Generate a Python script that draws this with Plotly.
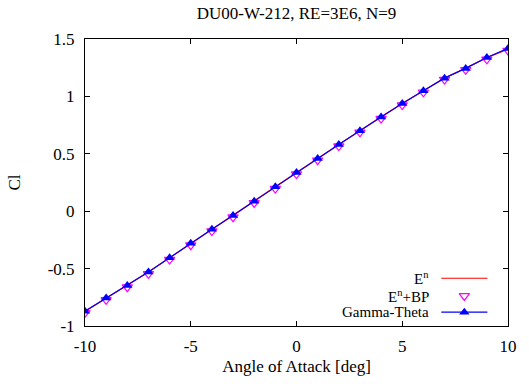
import plotly.graph_objects as go

alpha = [-10, -9, -8, -7, -6, -5, -4, -3, -2, -1, 0, 1, 2, 3, 4, 5, 6, 7, 8, 9, 10]
cl_en = [-0.872, -0.758, -0.648, -0.530, -0.406, -0.281, -0.158, -0.037, 0.087, 0.212, 0.338,
         0.459, 0.582, 0.702, 0.822, 0.939, 1.051, 1.160, 1.247, 1.338, 1.412]
cl_bp = [-0.885, -0.772, -0.662, -0.545, -0.421, -0.296, -0.173, -0.052, 0.072, 0.197, 0.323,
         0.444, 0.567, 0.687, 0.807, 0.924, 1.036, 1.146, 1.232, 1.323, 1.400]
cl_gt = [-0.871, -0.757, -0.648, -0.530, -0.406, -0.280, -0.157, -0.037, 0.087, 0.212, 0.338,
         0.458, 0.581, 0.701, 0.821, 0.938, 1.050, 1.159, 1.244, 1.339, 1.418]
x_ticks = [-10, -5, 0, 5, 10]
x_ticktext = ["-10", "-5", "0", "5", "10"]
y_ticks = [-1, -0.5, 0, 0.5, 1, 1.5]
y_ticktext = ["-1", "-0.5", "0", "0.5", "1", "1.5"]
legend_names = ["E<sup>n</sup>", "E<sup>n</sup>+BP", "Gamma-Theta"]

FONT = "Liberation Serif"
FS = 17
LFS = 15

fig = go.Figure()
fig.add_trace(go.Scatter(x=alpha, y=cl_en, mode="lines", line=dict(color="#ff0000", width=1.2),
                         showlegend=False))
fig.add_trace(go.Scatter(x=alpha, y=cl_bp, mode="markers",
                         marker=dict(symbol="triangle-down-open", size=9, color="#ff00ff",
                                     line=dict(width=1.2, color="#ff00ff")),
                         showlegend=False))
fig.add_trace(go.Scatter(x=alpha, y=cl_gt, mode="lines+markers", line=dict(color="#0000ff", width=1.2),
                         marker=dict(symbol="triangle-up", size=9, color="#0000ff"),
                         showlegend=False))

# custom gnuplot-style legend (text then sample) on hidden overlay axes in pixel units
ly = [281.5, 299.5, 316]
fig.add_trace(go.Scatter(x=[448, 495], y=[ly[0], ly[0]], mode="lines", xaxis="x2", yaxis="y2",
                         line=dict(color="#ff0000", width=1.2), showlegend=False, hoverinfo="skip"))
fig.add_trace(go.Scatter(x=[471.5], y=[ly[1]], mode="markers", xaxis="x2", yaxis="y2",
                         marker=dict(symbol="triangle-down-open", size=9, color="#ff00ff",
                                     line=dict(width=1.2, color="#ff00ff")),
                         showlegend=False, hoverinfo="skip"))
fig.add_trace(go.Scatter(x=[448, 495], y=[ly[2]] * 2, mode="lines", xaxis="x2", yaxis="y2",
                         line=dict(color="#0000ff", width=1.2), showlegend=False, hoverinfo="skip"))
fig.add_trace(go.Scatter(x=[471.5], y=[ly[2]], mode="markers", xaxis="x2", yaxis="y2",
                         marker=dict(symbol="triangle-up", size=9, color="#0000ff"),
                         showlegend=False, hoverinfo="skip"))
for name, yy in zip(legend_names, ly):
    fig.add_annotation(x=438, y=yy, xref="x2", yref="y2", text=name, showarrow=False,
                       xanchor="right", yanchor="middle", font=dict(family=FONT, size=LFS, color="black"))

fig.update_layout(
    width=529, height=384,
    margin=dict(l=85, r=13, t=38.5, b=54),
    paper_bgcolor="white", plot_bgcolor="white",
    font=dict(family=FONT, size=FS, color="black"),
    title=dict(text="DU00-W-212, RE=3E6, N=9", x=0.5, xref="paper", xanchor="center",
               y=1 - 13 / 384, yref="container", yanchor="middle",
               font=dict(family=FONT, size=FS, color="black")),
    xaxis=dict(range=[-10, 10], tickvals=x_ticks, ticktext=x_ticktext, ticks="inside", ticklen=5,
               tickcolor="black", showgrid=False, zeroline=False, showline=True, linecolor="black",
               linewidth=1, mirror="ticks", ticklabelstandoff=5,
               tickfont=dict(family=FONT, size=FS),
               title=dict(text="Angle of Attack [deg]", standoff=4, font=dict(family=FONT, size=FS))),
    yaxis=dict(range=[-1, 1.5], tickvals=y_ticks, ticktext=y_ticktext, ticks="inside", ticklen=5,
               tickcolor="black", showgrid=False, zeroline=False, showline=True, linecolor="black",
               linewidth=1, mirror="ticks", ticklabelstandoff=6,
               tickfont=dict(family=FONT, size=FS),
               title=dict(text="Cl", standoff=22, font=dict(family=FONT, size=FS))),
    xaxis2=dict(overlaying="x", range=[85, 516], visible=False, fixedrange=True),
    yaxis2=dict(overlaying="y", range=[330, 38.5], visible=False, fixedrange=True),
)

fig.write_html("out.html")
